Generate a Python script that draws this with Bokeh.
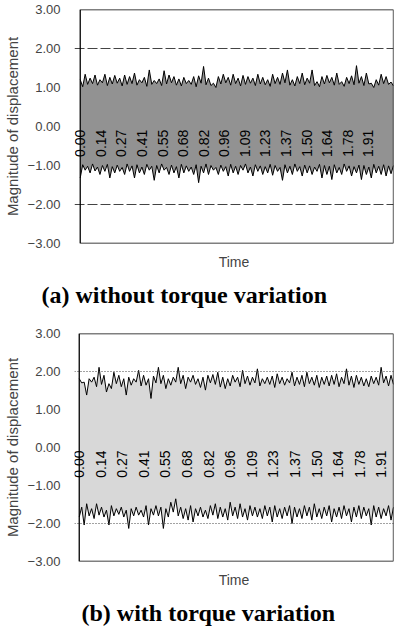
import numpy as np
from bokeh.plotting import figure
from bokeh.models import ColumnDataSource, LabelSet, Span, FixedTicker, Title, BoxAnnotation
from bokeh.layouts import column
from bokeh.core.properties import value
from bokeh.embed import file_html
from bokeh.resources import INLINE

# ---------------- data ----------------
Y_TICKS = [-3, -2, -1, 0, 1, 2, 3]
Y_LABELS = ["\u22123.00", "\u22122.00", "\u22121.00", "0.00", "1.00", "2.00", "3.00"]
X_TICK_VALUES = [0.000, 0.137, 0.273, 0.410, 0.546, 0.683, 0.820, 0.956,
                 1.093, 1.229, 1.366, 1.503, 1.639, 1.776, 1.912]
X_TICK_LABELS = ["0.00", "0.14", "0.27", "0.41", "0.55", "0.68", "0.82", "0.96",
                 "1.09", "1.23", "1.37", "1.50", "1.64", "1.78", "1.91"]
LIMIT = 2.0
Y_MIN, Y_MAX = -3.0, 3.0
T_START = 0.0
X_START_A, T_END_A = -0.038, 2.078
X_START_B, T_END_B = -0.030, 1.99

# (a) without torque variation: outer spikes and inner returns of the band
A_UP_PEAK = [1.20, 1.34, 1.24, 1.32, 1.20, 1.34, 1.26, 1.31, 1.24, 1.32,
             1.28, 1.37, 1.20, 1.26, 1.45, 1.18, 1.22, 1.43, 1.32, 1.28,
             1.22, 1.26, 1.18, 1.28, 1.30, 1.54, 1.24, 1.11, 1.28, 1.34,
             1.26, 1.34, 1.24, 1.31, 1.28, 1.24, 1.34, 1.26, 1.20, 1.34,
             1.26, 1.37, 1.45, 1.20, 1.28, 1.37, 1.24, 1.45, 1.15, 1.28,
             1.31, 1.26, 1.37, 1.15, 1.26, 1.30, 1.56, 1.28, 1.37, 1.11,
             1.20, 1.34, 1.28, 1.14]
A_UP_BASE = [1.02, 1.08, 1.10, 1.06, 1.12, 1.05, 1.09, 1.11, 1.04, 1.08,
             1.10, 1.06, 1.12, 1.03, 1.08, 1.10, 1.05, 1.09, 1.12, 1.06,
             1.04, 1.10, 1.08, 1.02, 1.11, 1.07, 1.05, 1.00, 1.09, 1.12,
             1.06, 1.10, 1.04, 1.08, 1.11, 1.05, 1.09, 1.07, 1.03, 1.10,
             1.08, 1.12, 1.06, 1.04, 1.10, 1.07, 1.11, 1.05, 1.02, 1.09,
             1.12, 1.06, 1.08, 1.03, 1.10, 1.07, 1.11, 1.05, 1.09, 1.00,
             1.06, 1.10, 1.08, 1.04]
A_LO_PEAK = [-1.32, -1.12, -1.19, -1.14, -1.23, -1.15, -1.32, -1.19, -1.15, -1.23,
             -1.15, -1.32, -1.19, -1.23, -1.12, -1.38, -1.19, -1.12, -1.23, -1.19,
             -1.32, -1.19, -1.15, -1.23, -1.44, -1.19, -1.23, -1.12, -1.23, -1.15,
             -1.27, -1.19, -1.23, -1.12, -1.19, -1.27, -1.15, -1.23, -1.19, -1.25,
             -1.15, -1.38, -1.19, -1.23, -1.15, -1.27, -1.19, -1.23, -1.15, -1.32,
             -1.23, -1.36, -1.19, -1.23, -1.15, -1.27, -1.19, -1.36, -1.23, -1.32,
             -1.19, -1.23, -1.27, -1.21]
A_LO_BASE = [-0.98, -1.02, -0.96, -1.04, -1.00, -0.97, -1.03, -0.99, -1.05, -0.96,
             -1.01, -0.98, -1.04, -0.97, -1.02, -1.00, -0.96, -1.05, -0.99, -1.03,
             -0.97, -1.01, -1.04, -0.98, -1.02, -0.96, -1.00, -1.05, -0.99, -1.03,
             -0.97, -1.02, -1.00, -0.96, -1.04, -0.98, -1.01, -1.03, -0.97, -1.00,
             -1.05, -0.98, -1.02, -0.96, -1.03, -0.99, -1.01, -1.04, -0.97, -1.00,
             -1.02, -0.98, -1.05, -0.96, -1.01, -1.03, -0.99, -1.00, -1.04, -0.97,
             -1.02, -0.98, -1.01, -1.00]

# (b) with torque variation
B_UP_PEAK = [1.81, 1.72, 1.81, 1.85, 2.11, 1.90, 1.68, 1.98, 1.90, 1.81,
             1.85, 1.81, 2.03, 1.90, 1.81, 1.88, 2.11, 1.90, 1.81, 1.85,
             2.11, 1.90, 1.85, 1.90, 1.81, 1.85, 1.90, 1.92, 1.98, 1.85,
             1.81, 1.90, 1.85, 2.03, 1.88, 1.85, 2.07, 1.81, 1.85, 1.88,
             1.94, 1.85, 1.81, 1.98, 1.85, 1.90, 1.98, 1.85, 1.90, 1.85,
             1.88, 1.90, 1.94, 1.85, 2.07, 1.88, 1.90, 1.85, 1.81, 1.88,
             1.85, 2.11, 1.88, 1.90]
B_UP_BASE = [1.70, 1.38, 1.72, 1.60, 1.66, 1.46, 1.55, 1.68, 1.60, 1.38,
             1.64, 1.72, 1.62, 1.64, 1.29, 1.70, 1.68, 1.55, 1.64, 1.72,
             1.68, 1.55, 1.72, 1.66, 1.58, 1.51, 1.70, 1.66, 1.59, 1.55,
             1.62, 1.72, 1.60, 1.68, 1.64, 1.70, 1.62, 1.68, 1.66, 1.58,
             1.68, 1.64, 1.70, 1.62, 1.66, 1.60, 1.68, 1.64, 1.58, 1.66,
             1.62, 1.66, 1.60, 1.68, 1.64, 1.58, 1.66, 1.62, 1.60, 1.68,
             1.64, 1.70, 1.62, 1.66]
B_LO_PEAK = [-1.83, -2.04, -1.80, -1.87, -1.78, -1.83, -2.04, -1.80, -1.76, -1.83,
             -2.13, -1.80, -1.78, -1.83, -2.04, -1.78, -1.80, -2.13, -1.83, -1.70,
             -1.80, -1.87, -1.91, -1.96, -1.80, -1.83, -1.87, -1.78, -1.87, -1.83,
             -1.91, -1.80, -1.87, -1.83, -1.91, -1.80, -1.83, -1.87, -1.80, -1.96,
             -1.83, -1.87, -1.80, -2.00, -1.83, -1.87, -1.80, -1.91, -1.83, -1.87,
             -1.80, -1.96, -1.83, -1.87, -1.80, -1.96, -1.83, -1.87, -1.80, -2.04,
             -1.83, -1.87, -1.80, -1.91]
B_LO_BASE = [-1.57, -1.48, -1.61, -1.48, -1.57, -1.65, -1.53, -1.61, -1.57, -1.65,
             -1.61, -1.57, -1.65, -1.53, -1.61, -1.53, -1.57, -1.61, -1.44, -1.35,
             -1.57, -1.61, -1.53, -1.61, -1.57, -1.65, -1.53, -1.48, -1.57, -1.61,
             -1.44, -1.57, -1.48, -1.61, -1.53, -1.57, -1.61, -1.53, -1.57, -1.53,
             -1.61, -1.57, -1.53, -1.57, -1.61, -1.53, -1.57, -1.48, -1.61, -1.57,
             -1.53, -1.61, -1.57, -1.53, -1.61, -1.57, -1.53, -1.57, -1.61, -1.53,
             -1.57, -1.61, -1.53, -1.57]

SANS = "Liberation Sans"
SERIF = "Liberation Serif"


def interleave(a, b):
    out = np.empty(len(a) + len(b))
    out[0::2] = a
    out[1::2] = b
    return out


def panel(height, x_start, t_end, border_top, border_bottom, up_peak, up_base, lo_peak, lo_base,
          fill, limit_dash, caption, cap_offset, cap_standoff):
    p = figure(width=394, height=height, x_range=(x_start, t_end), y_range=(Y_MIN, Y_MAX),
               output_backend="svg", toolbar_location=None,
               min_border_left=61, min_border_right=1,
               min_border_top=border_top, min_border_bottom=border_bottom)
    p.grid.visible = False
    p.outline_line_color = None
    p.background_fill_color = "white"
    p.border_fill_color = "white"

    up = interleave(up_peak, up_base)
    lo = interleave(lo_peak, lo_base)
    t = np.linspace(T_START, t_end, len(up))
    src = ColumnDataSource(dict(t=t, up=up, lo=lo))
    p.varea(x="t", y1="lo", y2="up", source=src, fill_color=fill)
    p.line("t", "up", source=src, line_color="black", line_width=1)
    p.line("t", "lo", source=src, line_color="black", line_width=1)

    for loc in (LIMIT, -LIMIT):
        p.add_layout(Span(location=loc, dimension="width", line_color="#444444",
                          line_width=1, line_dash=limit_dash))

    # plot box starting at time zero
    p.add_layout(BoxAnnotation(left=T_START, right=t_end, bottom=Y_MIN, top=Y_MAX,
                               fill_color=None, fill_alpha=0, line_color="black",
                               line_alpha=1.0, line_width=1.3))

    lab_src = ColumnDataSource(dict(x=X_TICK_VALUES, y=[-0.08] * len(X_TICK_VALUES),
                                    text=X_TICK_LABELS))
    p.add_layout(LabelSet(x="x", y="y", text="text", source=lab_src, angle=np.pi / 2,
                          text_align="right", text_baseline="middle",
                          text_font=value(SANS), text_font_size="14px", text_color="black"))

    ya = p.yaxis[0]
    ya.ticker = FixedTicker(ticks=Y_TICKS)
    ya.major_label_overrides = dict(zip(Y_TICKS, Y_LABELS))
    ya.major_label_text_font = SANS
    ya.major_label_text_font_size = "13px"
    ya.major_tick_line_color = None
    ya.minor_tick_line_color = None
    ya.major_label_standoff = 8
    ya.axis_line_color = None
    ya.axis_label = "Magnitude of displacement"
    ya.axis_label_text_font = SANS
    ya.axis_label_text_font_size = "15px"
    ya.axis_label_text_font_style = "normal"
    ya.axis_label_standoff = 4

    xa = p.xaxis[0]
    xa.ticker = FixedTicker(ticks=[])
    xa.major_tick_line_color = None
    xa.minor_tick_line_color = None
    xa.major_label_standoff = 0
    xa.axis_line_color = None
    xa.axis_label = "Time"
    xa.axis_label_text_font = SANS
    xa.axis_label_text_font_size = "14px"
    xa.axis_label_text_font_style = "normal"
    xa.axis_label_standoff = 10

    p.add_layout(Title(text=caption, align="left", offset=cap_offset, standoff=cap_standoff,
                       text_font=SERIF, text_font_size="24px", text_font_style="bold",
                       text_color="black"), "below")
    return p


p1 = panel(315, X_START_A, T_END_A, 9, 72, A_UP_PEAK, A_UP_BASE, A_LO_PEAK, A_LO_BASE,
           "#929292", "10 3", "(a)  without  torque  variation", -33, 15)
p2 = panel(318, X_START_B, T_END_B, 18, 71, B_UP_PEAK, B_UP_BASE, B_LO_PEAK, B_LO_BASE,
           "#d8d8d8", "1 2", "(b)  with  torque  variation", 7, 15)

layout = column(p1, p2, spacing=0)
open("out.html", "w").write(file_html(layout, INLINE))
